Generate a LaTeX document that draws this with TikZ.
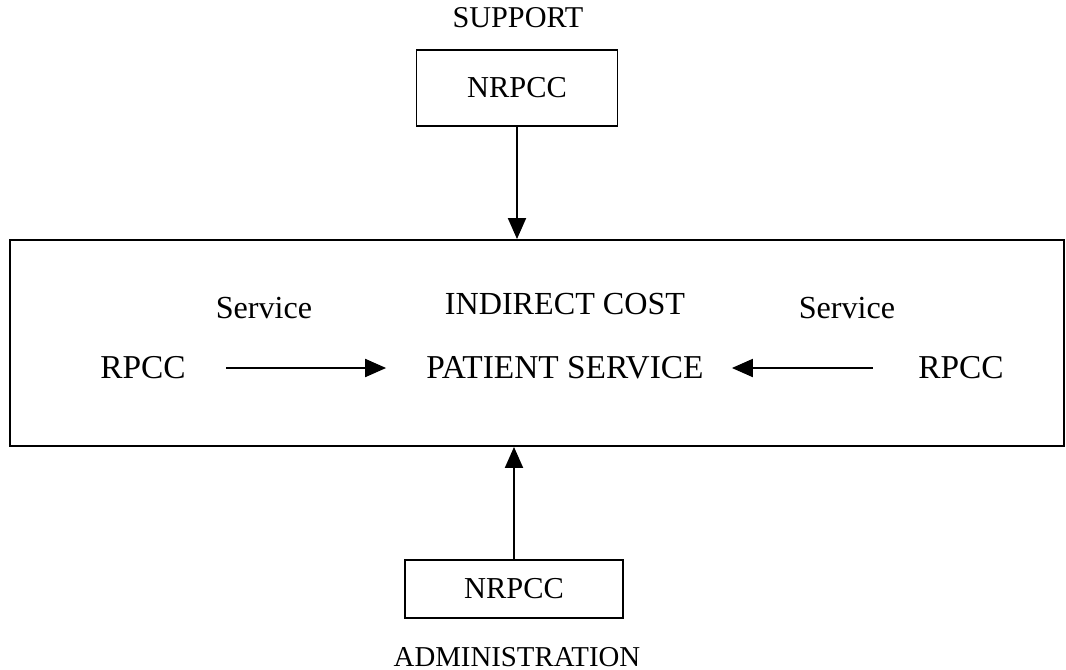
\documentclass[tikz,border=0pt]{standalone}
\usepackage{fontspec}
\setmainfont{Liberation Serif}
\usetikzlibrary{arrows.meta,positioning}

\begin{document}
\begin{tikzpicture}[
  x=0.02cm, y=-0.02cm,
  box/.style={draw,line width=1.1pt,inner sep=0pt},
  txt/.style={inner sep=0pt,font=\fontsize{19}{21}\selectfont},
  small/.style={txt,font=\fontsize{17.2}{19}\selectfont},
  arrow/.style={-{Triangle[length=0.42cm,width=0.36cm]},line width=1.1pt}
]
\useasboundingbox (0,0) rectangle (1066,670);

\node[box,minimum width=21.08cm,minimum height=4.12cm] (cost) at (537,343) {};
\node[box,minimum width=4.02cm,minimum height=1.52cm,
  font=\fontsize{17.3}{19}\selectfont] (support) at (517,88) {NRPCC};
\node[small] (supportlbl) at (518,18) {SUPPORT};
\node[box,minimum width=4.36cm,minimum height=1.16cm,
  font=\fontsize{17.3}{19}\selectfont] (admin) at (514,589) {NRPCC};
\node[small,font=\fontsize{16.4}{18}\selectfont] (adminlbl) at (517,657) {ADMINISTRATION};

\node[txt,font=\fontsize{18.3}{20}\selectfont] (indirect) at (565,304) {INDIRECT COST};
\node[txt] (patient) at (565,368) {PATIENT SERVICE};
\node[txt] (rpccleft) at (143,368) {RPCC};
\node[txt] (rpccright) at (961,368) {RPCC};
\node[txt,font=\fontsize{18.3}{20}\selectfont] (serviceleft) at (264,308) {Service};
\node[txt,font=\fontsize{18.3}{20}\selectfont] (serviceright) at (847,308) {Service};

\draw[arrow] (support) -- (support |- cost.north);
\draw[arrow] (admin) -- (admin |- cost.south);
\draw[arrow,shorten <=0.8cm,shorten >=0.8cm] (rpccleft) -- (patient);
\draw[arrow,shorten <=0.9cm,shorten >=0.56cm] (rpccright) -- (patient);
\end{tikzpicture}
\end{document}
